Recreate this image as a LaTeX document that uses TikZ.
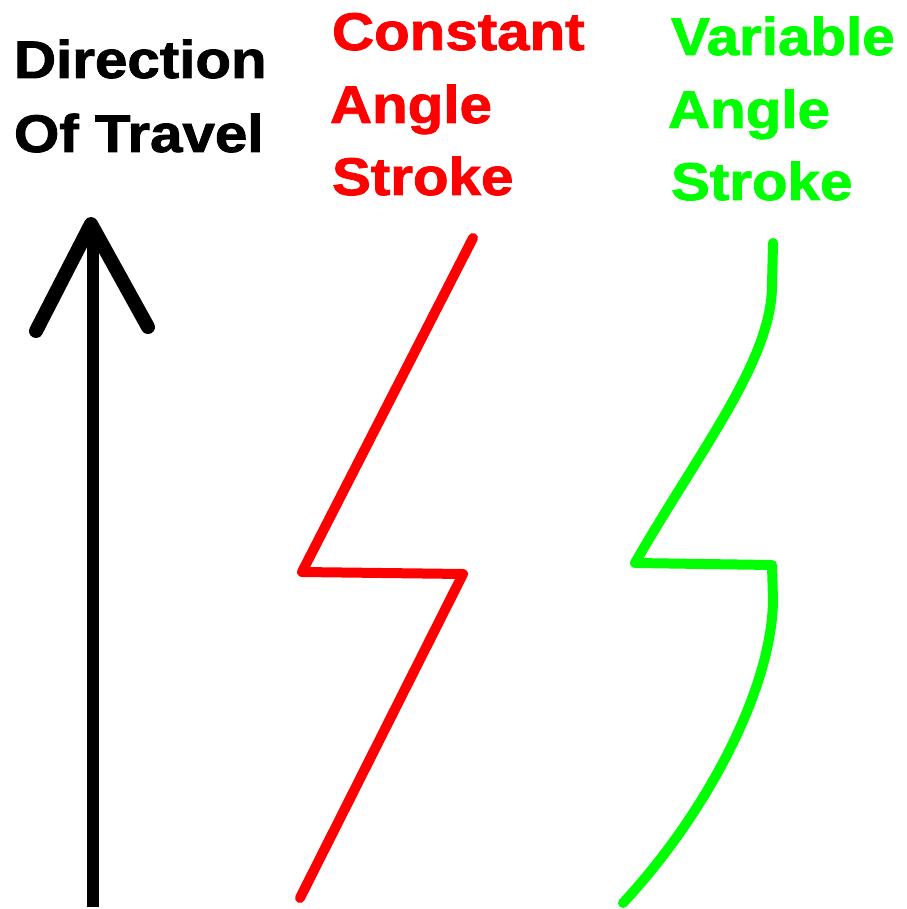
\documentclass[tikz,border=0pt]{standalone}
\usepackage{fontspec}
\setmainfont{Liberation Sans}[BoldFeatures={FakeBold=1.5}]
\definecolor{pred}{RGB}{255,0,0}
\definecolor{pgreen}{RGB}{0,255,0}
\begin{document}
\begin{tikzpicture}[x=1pt,y=-1pt,
  lbl/.style={anchor=base west,inner sep=0pt,outer sep=0pt,font=\bfseries\fontsize{53}{60}\selectfont,xscale=1.1},
  blk/.style={line width=12pt,black},
  rstroke/.style={line width=10pt,pred,line join=round,line cap=round},
  gstroke/.style={line width=10pt,pgreen,line join=round,line cap=round}]
\useasboundingbox[fill=white] (0,0) rectangle (906,909);
% labels
\node[lbl] (d1) at (14,78) {Direction};
\node[lbl] (d2) at (14,152) {Of Travel};
\node[lbl,text=pred] (c1) at (332,50) {Constant};
\node[lbl,text=pred] (c2) at (330,123) {Angle};
\node[lbl,text=pred] (c3) at (332,195) {Stroke};
\node[lbl,text=pgreen] (v1) at (671,55) {Variable};
\node[lbl,text=pgreen] (v2) at (668,128) {Angle};
\node[lbl,text=pgreen] (v3) at (671,200) {Stroke};
% arrow
\coordinate (tip) at (91,224);
\coordinate (al) at (36,331);
\coordinate (ar) at (148,327);
\coordinate (sb) at (93,907);
\coordinate (st) at (93,232);
\draw[blk,line cap=butt] (sb) -- (st);
\draw[blk,line width=14pt,line cap=round,line join=round] (al) -- (tip) -- (ar);
% constant angle stroke
\coordinate (r1) at (473,238);
\coordinate (r2) at (302,572);
\coordinate (r3) at (463,574);
\coordinate (r4) at (300,898);
\draw[rstroke] (r1) -- (r2) -- (r3) -- (r4);
% variable angle stroke
\coordinate (g0) at (773,243);
\coordinate (g1) at (772,285);
\coordinate (g2) at (635,563);
\coordinate (g3) at (772,565);
\coordinate (g4) at (773,600);
\coordinate (g5) at (623,903);
\draw[gstroke] (g0) -- (g1) .. controls (772,360) and (700,450) .. (g2) -- (g3) -- (g4) .. controls (772,690) and (705,815) .. (g5);
\end{tikzpicture}
\end{document}
